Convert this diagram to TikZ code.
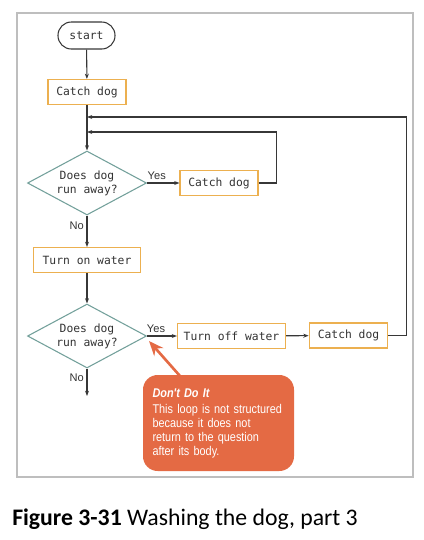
\documentclass[tikz,border=0pt]{standalone}
\usepackage{fontspec}
\setmonofont{DejaVu Sans Mono}
\setsansfont{Liberation Sans}
\newfontfamily\capfont{Carlito}
\newfontfamily\notefont[FakeStretch=0.86]{Liberation Sans}
\usepackage{tikz}
\usetikzlibrary{shapes.geometric,arrows.meta}

\definecolor{boxedge}{RGB}{236,176,80}
\definecolor{diaedge}{RGB}{115,160,155}
\definecolor{noteorange}{RGB}{228,106,68}
\definecolor{flowline}{RGB}{55,55,55}
\definecolor{framegray}{RGB}{190,190,190}

\begin{document}
\begin{tikzpicture}[x=0.75pt, y=-0.75pt,
        >={Stealth[length=4pt, width=3pt]},
        flow/.style={draw=flowline, line width=0.8pt},
        stepbox/.style={draw=boxedge, line width=0.8pt, fill=white, text=black!80,
            font=\ttfamily\fontsize{8.5}{10}\selectfont, minimum height=18.75pt, inner sep=0pt},
        question/.style={diamond, aspect=1.86, draw=diaedge, line width=0.8pt, fill=white, text=black!80,
            font=\ttfamily\fontsize{8.5}{10.5}\selectfont, align=center,
            minimum width=89.25pt, minimum height=48pt, inner sep=0pt},
        terminal/.style={draw=flowline, line width=0.8pt, rounded corners=10pt, text=black!80,
            font=\ttfamily\fontsize{8.5}{10}\selectfont, minimum width=42.75pt, minimum height=20.25pt},
        branch/.style={font=\sffamily\fontsize{8.3}{10}\selectfont, text=black!80, inner sep=2pt}]

            \useasboundingbox (0, 0) rectangle (424, 540);
            \draw[framegray, line width=1pt] (17, 13) rectangle (413, 477);

            \node[terminal] (start) at (86.5, 35.5) {start};
            \node[stepbox, minimum width=58.5pt] (catch1) at (87, 92) {Catch dog};
            \node[question] (ask1) at (87, 183) {Does dog\\run away?};
            \node[stepbox, minimum width=58.5pt] (catch2) at (219, 183) {Catch dog};
            \node[stepbox, minimum width=80.25pt] (turnon) at (87, 260) {Turn on water};
            \node[question] (ask2) at (87, 336) {Does dog\\run away?};
            \node[stepbox, minimum width=81pt] (turnoff) at (231.5, 336) {Turn off water};
            \node[stepbox, minimum width=59pt] (catch3) at (348.5, 335.5) {Catch dog};

            \coordinate (join1) at (87, 117);
            \coordinate (join2) at (87, 132);
            \coordinate (exit) at (87, 396);

            \draw[flow, ->] (start) -- (catch1);
            \draw[flow, ->] (catch1) -- (ask1);
            \draw[flow, ->] (ask1) -- node[branch, above, pos=0.3] {Yes} (catch2);
            \draw[flow, ->] (catch2.east) -- ++(18, 0) |- (join2);
            \draw[flow, ->] (ask1) -- node[branch, left, pos=0.33] {No} (turnon);
            \draw[flow, ->] (turnon) -- (ask2);
            \draw[flow, ->] (ask2) -- node[branch, above, pos=0.3] {Yes} (turnoff);
            \draw[flow, ->] (turnoff) -- (catch3);
            \draw[flow, ->] (catch3.east) -- ++(18, 0) |- (join1);
            \draw[flow, ->] (ask2) -- node[branch, left, pos=0.33] {No} (exit);

            % the callout
            \node[fill=noteorange, rounded corners=11pt, minimum width=113.25pt, minimum height=72pt,
                text width=99pt, align=left, text=white, inner xsep=7pt,
                font=\notefont\fontsize{9.5}{10.5}\selectfont] (note) at (218.5, 423)
                {{\bfseries\itshape Don't Do It}\\[1.5pt]
                 This loop is not structured\\because it does not\\return to the question\\after its body.};
            \coordinate (notefoot) at (180, 376);
            \coordinate (notetip) at (149, 341);
            \draw[noteorange, line width=2pt, -{Stealth[length=11pt, width=9pt]}] (notefoot) -- (notetip);

            \node[anchor=base west, inner sep=0pt, font=\capfont\fontsize{17.8}{21}\selectfont] (caption) at (12, 525)
                {\textbf{Figure 3-31} Washing the dog, part 3};

\end{tikzpicture}
\end{document}
